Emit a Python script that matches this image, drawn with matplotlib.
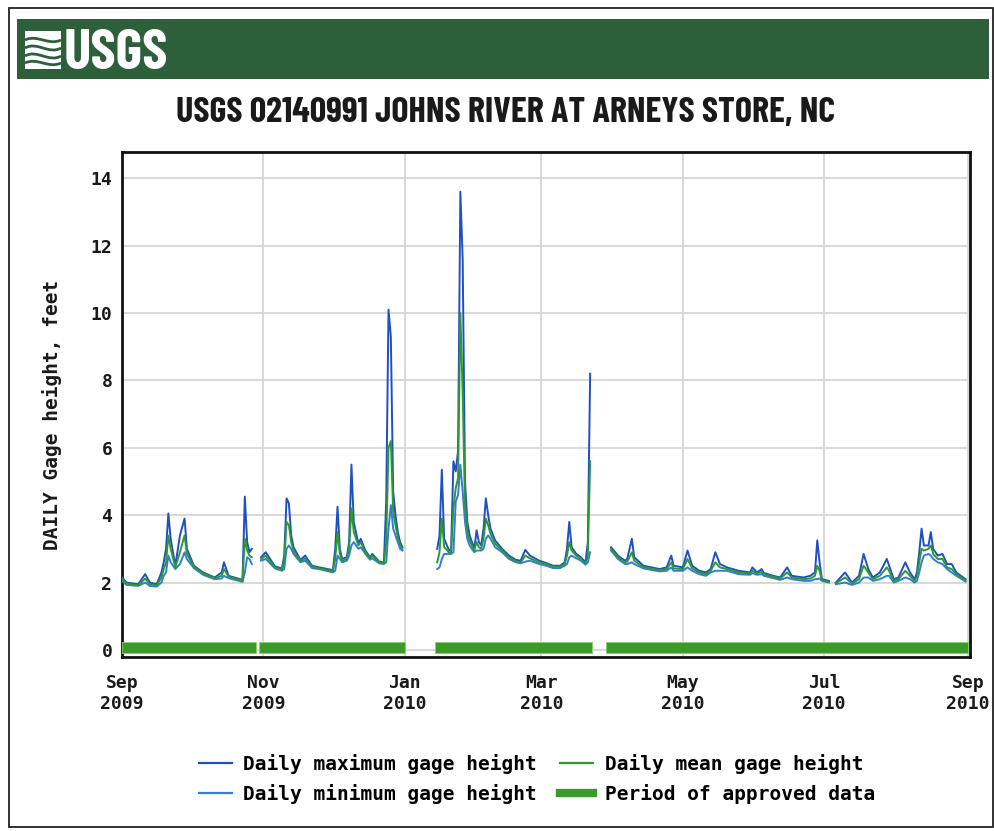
import numpy as np
import pandas as pd
import matplotlib
matplotlib.use('Agg')
import matplotlib.pyplot as plt
import matplotlib.dates as mdates
from matplotlib.patches import Rectangle, PathPatch
from matplotlib.path import Path
from matplotlib.lines import Line2D

nan = float('nan')

# ---------------- data ----------------
dates = [
    '2009-09-01', '2009-09-03', '2009-09-08', '2009-09-11', '2009-09-13', '2009-09-16',
    '2009-09-18', '2009-09-19', '2009-09-20', '2009-09-21', '2009-09-22', '2009-09-24',
    '2009-09-26', '2009-09-28', '2009-09-29', '2009-10-02', '2009-10-06', '2009-10-11',
    '2009-10-14', '2009-10-15', '2009-10-17', '2009-10-23', '2009-10-24', '2009-10-25',
    '2009-10-26', '2009-10-27', '2009-10-28',
    '2009-10-31', '2009-11-02', '2009-11-06', '2009-11-09', '2009-11-10', '2009-11-11',
    '2009-11-12', '2009-11-13', '2009-11-14', '2009-11-17', '2009-11-19', '2009-11-22',
    '2009-11-25', '2009-12-01', '2009-12-02', '2009-12-03', '2009-12-04', '2009-12-05',
    '2009-12-07', '2009-12-08', '2009-12-09', '2009-12-10', '2009-12-12', '2009-12-13',
    '2009-12-15', '2009-12-17', '2009-12-18', '2009-12-21', '2009-12-23', '2009-12-24',
    '2009-12-25', '2009-12-26', '2009-12-27', '2009-12-28', '2009-12-29', '2009-12-30',
    '2009-12-31', '2010-01-01',
    '2010-01-15', '2010-01-16', '2010-01-17', '2010-01-18', '2010-01-20', '2010-01-21',
    '2010-01-22', '2010-01-23', '2010-01-24', '2010-01-25', '2010-01-26', '2010-01-27',
    '2010-01-28', '2010-01-29', '2010-01-31', '2010-02-01', '2010-02-02', '2010-02-03',
    '2010-02-04', '2010-02-05', '2010-02-06', '2010-02-07', '2010-02-09', '2010-02-12',
    '2010-02-15', '2010-02-18', '2010-02-20', '2010-02-22', '2010-02-24', '2010-02-28',
    '2010-03-03', '2010-03-06', '2010-03-09', '2010-03-11', '2010-03-12', '2010-03-13',
    '2010-03-14', '2010-03-16', '2010-03-18', '2010-03-20', '2010-03-21', '2010-03-22',
    '2010-03-23',
    '2010-03-31', '2010-04-03', '2010-04-06', '2010-04-07', '2010-04-09', '2010-04-10',
    '2010-04-14', '2010-04-21', '2010-04-24', '2010-04-26', '2010-04-27', '2010-05-01',
    '2010-05-03', '2010-05-05', '2010-05-08', '2010-05-11', '2010-05-13', '2010-05-15',
    '2010-05-17', '2010-05-20', '2010-05-25', '2010-05-30', '2010-05-31', '2010-06-02',
    '2010-06-04', '2010-06-05', '2010-06-09', '2010-06-12', '2010-06-15', '2010-06-17',
    '2010-06-22', '2010-06-25', '2010-06-27', '2010-06-28', '2010-06-29', '2010-06-30',
    '2010-07-03', '2010-07-04',
    '2010-07-06', '2010-07-10', '2010-07-13', '2010-07-16', '2010-07-18', '2010-07-20',
    '2010-07-22', '2010-07-25', '2010-07-28', '2010-07-29', '2010-07-31', '2010-08-02',
    '2010-08-05', '2010-08-07', '2010-08-09', '2010-08-10', '2010-08-11', '2010-08-12',
    '2010-08-13', '2010-08-15', '2010-08-16', '2010-08-17', '2010-08-19', '2010-08-21',
    '2010-08-23', '2010-08-25', '2010-08-27', '2010-08-31',
]

gage_max = [
    2.15, 2.00, 1.95, 2.25, 2.00, 1.95,
    2.30, 2.60, 3.00, 4.05, 3.30, 2.50,
    3.40, 3.90, 3.00, 2.50, 2.30, 2.15,
    2.30, 2.60, 2.20, 2.08, 4.55, 3.20,
    2.90, 3.00, nan,
    2.75, 2.90, 2.48, 2.42, 2.80, 4.50,
    4.35, 3.40, 3.05, 2.67, 2.80, 2.50,
    2.45, 2.37, 3.00, 4.25, 3.00, 2.70,
    2.75, 3.20, 5.50, 3.80, 3.15, 3.30,
    2.95, 2.75, 2.85, 2.62, 2.60, 4.40,
    10.1, 9.30, 4.70, 4.00, 3.50, 3.20,
    3.05, nan,
    3.00, 3.40, 5.35, 3.30, 2.97, 2.95,
    5.60, 5.30, 5.90, 13.6, 11.6, 5.00,
    3.80, 3.40, 3.00, 3.55, 3.20, 3.10,
    3.60, 4.50, 4.00, 3.60, 3.25, 3.00,
    2.80, 2.67, 2.65, 2.97, 2.80, 2.65,
    2.58, 2.50, 2.50, 2.60, 3.00, 3.80,
    3.05, 2.85, 2.75, 2.60, 3.20, 8.20,
    nan,
    3.05, 2.80, 2.65, 2.70, 3.30, 2.75,
    2.50, 2.40, 2.45, 2.80, 2.50, 2.45,
    2.95, 2.50, 2.35, 2.30, 2.40, 2.90,
    2.55, 2.45, 2.35, 2.30, 2.45, 2.30,
    2.40, 2.28, 2.20, 2.15, 2.45, 2.20,
    2.15, 2.20, 2.30, 3.25, 2.60, 2.10,
    2.05, nan,
    2.00, 2.30, 2.00, 2.20, 2.85, 2.40,
    2.15, 2.30, 2.70, 2.50, 2.10, 2.15,
    2.60, 2.30, 2.10, 2.30, 2.90, 3.60,
    3.10, 3.10, 3.50, 3.00, 2.80, 2.85,
    2.55, 2.55, 2.30, 2.10,
]

gage_mean = [
    2.10, 1.97, 1.92, 2.12, 1.95, 1.92,
    2.15, 2.40, 2.60, 3.40, 3.00, 2.45,
    2.90, 3.40, 2.85, 2.47, 2.27, 2.13,
    2.20, 2.40, 2.17, 2.05, 3.30, 2.95,
    2.80, 2.75, nan,
    2.70, 2.80, 2.45, 2.38, 2.60, 3.80,
    3.70, 3.20, 2.95, 2.63, 2.72, 2.47,
    2.42, 2.34, 2.70, 3.50, 2.85, 2.65,
    2.70, 3.00, 4.20, 3.50, 3.10, 3.20,
    2.90, 2.72, 2.80, 2.60, 2.57, 3.20,
    6.00, 6.20, 4.10, 3.70, 3.35, 3.10,
    3.00, nan,
    2.60, 2.90, 3.90, 3.05, 2.90, 2.90,
    4.20, 4.80, 5.10, 10.0, 7.60, 4.30,
    3.50, 3.25, 2.95, 3.20, 3.05, 3.00,
    3.30, 3.90, 3.70, 3.45, 3.15, 2.95,
    2.75, 2.63, 2.60, 2.80, 2.72, 2.60,
    2.55, 2.47, 2.47, 2.55, 2.80, 3.20,
    2.95, 2.80, 2.70, 2.57, 2.80, 5.60,
    nan,
    3.00, 2.75, 2.60, 2.62, 2.90, 2.65,
    2.45, 2.37, 2.40, 2.60, 2.42, 2.40,
    2.70, 2.42, 2.30, 2.25, 2.35, 2.60,
    2.45, 2.40, 2.30, 2.27, 2.35, 2.27,
    2.32, 2.24, 2.17, 2.12, 2.30, 2.15,
    2.10, 2.12, 2.20, 2.50, 2.35, 2.07,
    2.02, nan,
    1.98, 2.15, 1.97, 2.10, 2.50, 2.30,
    2.10, 2.20, 2.45, 2.35, 2.05, 2.10,
    2.35, 2.20, 2.05, 2.20, 2.60, 3.00,
    2.95, 3.00, 3.10, 2.85, 2.70, 2.70,
    2.45, 2.40, 2.25, 2.07,
]

gage_min = [
    2.05, 1.93, 1.90, 2.00, 1.90, 1.88,
    2.00, 2.20, 2.30, 2.80, 2.60, 2.40,
    2.55, 2.90, 2.70, 2.43, 2.23, 2.10,
    2.12, 2.20, 2.13, 2.02, 2.30, 2.75,
    2.70, 2.55, nan,
    2.65, 2.70, 2.42, 2.35, 2.40, 3.00,
    3.10, 3.00, 2.85, 2.60, 2.65, 2.43,
    2.40, 2.30, 2.35, 2.80, 2.70, 2.60,
    2.65, 2.80, 3.10, 3.20, 3.00, 3.05,
    2.85, 2.68, 2.72, 2.57, 2.55, 2.60,
    3.60, 4.30, 3.60, 3.40, 3.20, 3.00,
    2.95, nan,
    2.40, 2.45, 2.70, 2.85, 2.85, 2.85,
    2.90, 4.40, 4.60, 5.50, 4.70, 3.80,
    3.30, 3.10, 2.90, 2.95, 2.95, 2.95,
    3.00, 3.30, 3.40, 3.30, 3.05, 2.90,
    2.70, 2.60, 2.57, 2.62, 2.65, 2.55,
    2.50, 2.43, 2.43, 2.50, 2.55, 2.75,
    2.80, 2.72, 2.65, 2.53, 2.60, 2.90,
    nan,
    2.95, 2.70, 2.55, 2.55, 2.60, 2.55,
    2.42, 2.33, 2.35, 2.45, 2.35, 2.35,
    2.45, 2.35, 2.25, 2.20, 2.30, 2.35,
    2.35, 2.35, 2.25, 2.23, 2.28, 2.23,
    2.25, 2.20, 2.13, 2.08, 2.15, 2.10,
    2.05, 2.05, 2.10, 2.10, 2.12, 2.05,
    2.00, nan,
    1.95, 2.00, 1.93, 2.00, 2.15, 2.15,
    2.05, 2.10, 2.20, 2.20, 2.00, 2.05,
    2.15, 2.10, 2.00, 2.05, 2.30, 2.60,
    2.80, 2.85, 2.80, 2.70, 2.60, 2.55,
    2.40, 2.30, 2.20, 2.03,
]

approved_start = ['2009-09-01', '2009-10-30', '2010-01-14', '2010-03-29']
approved_end = ['2009-10-29', '2010-01-01', '2010-03-23', '2010-09-01']

tick_dates = ['2009-09-01', '2009-11-01', '2010-01-01', '2010-03-01',
              '2010-05-01', '2010-07-01', '2010-09-01']
tick_labels = ['Sep\n2009', 'Nov\n2009', 'Jan\n2010', 'Mar\n2010',
               'May\n2010', 'Jul\n2010', 'Sep\n2010']
y_ticks = [0, 2, 4, 6, 8, 10, 12, 14]

title_text = 'USGS 02140991 JOHNS RIVER AT ARNEYS STORE, NC'
y_label = 'DAILY Gage height, feet'
legend_labels = ['Daily maximum gage height', 'Daily minimum gage height',
                 'Daily mean gage height', 'Period of approved data']

# ---------------- colours ----------------
c_max = '#1f4fc4'
c_min = '#2f7de1'
c_mean = '#2e9a2e'
c_bar = '#3a9b2a'
c_header = '#2e5f3b'

W, H = 995, 831
fig = plt.figure(figsize=(W / 100, H / 100), dpi=100)


def fx(x):
    return x / W


def fy(y):
    return 1 - y / H


# outer frame
fig.patches.append(Rectangle((fx(9), fy(827)), fx(993) - fx(9), fy(8) - fy(827),
                             fill=False, ec='#222222', lw=1.3,
                             transform=fig.transFigure, figure=fig))
# header band
fig.patches.append(Rectangle((fx(17), fy(79)), fx(989) - fx(17), fy(19) - fy(79),
                             fc=c_header, ec='none',
                             transform=fig.transFigure, figure=fig))


# logo emblem (white wave symbol)
def wave(y0, amp):
    verts = [(fx(25), fy(y0)), (fx(37), fy(y0 - amp)), (fx(49), fy(y0 + amp)), (fx(61), fy(y0))]
    codes = [Path.MOVETO, Path.CURVE4, Path.CURVE4, Path.CURVE4]
    return Path(verts, codes)


fig.patches.append(Rectangle((fx(25), fy(69)), fx(61) - fx(25), fy(31) - fy(69),
                             fc='white', ec='none', transform=fig.transFigure, figure=fig))
for y0, amp in [(40, 6), (48, 7), (56, 7), (63, 6)]:
    fig.patches.append(PathPatch(wave(y0, amp), fc='none', ec=c_header, lw=2.0,
                                 transform=fig.transFigure, figure=fig))

narrow = ['Barlow Condensed', 'Roboto Condensed', 'DejaVu Sans']
fig.text(fx(64), fy(69), 'USGS', color='white', fontsize=41, fontweight='bold',
         family=narrow, ha='left', va='baseline')

fig.text(fx(506), fy(122), title_text, color='#1a1a1a', fontsize=26, fontweight='bold',
         family=narrow, ha='center', va='baseline')

# ---------------- axes ----------------
ax = fig.add_axes([fx(122), fy(657), fx(970) - fx(122), fy(152) - fy(657)])

d = pd.to_datetime(dates)
ax.plot(d, gage_max, color=c_max, lw=1.4, zorder=3)
ax.plot(d, gage_min, color=c_min, lw=1.4, zorder=3)
ax.plot(d, gage_mean, color=c_mean, lw=1.4, zorder=4)

s = mdates.date2num(pd.to_datetime(approved_start))
e = mdates.date2num(pd.to_datetime(approved_end))
ax.broken_barh(list(zip(s, e - s)), (-0.09, 0.33), facecolors=c_bar,
               edgecolors='#8fce70', linewidth=0.6, zorder=5)

x0 = mdates.date2num(pd.Timestamp('2009-09-01'))
x1 = mdates.date2num(pd.Timestamp('2010-09-01')) + 0.9
ax.set_xlim(x0, x1)
ax.set_ylim(-0.21, 14.78)

ax.set_xticks(pd.to_datetime(tick_dates))
ax.set_xticklabels(tick_labels, linespacing=1.25)
ax.set_yticks(y_ticks)
ax.set_yticklabels([str(v) for v in y_ticks])

mono = ['DejaVu Sans Mono']
for lab in ax.get_xticklabels() + ax.get_yticklabels():
    lab.set_family(mono)
    lab.set_fontweight('bold')
    lab.set_fontsize(13)
    lab.set_color('#1a1a1a')
ax.tick_params(axis='both', length=0)
ax.tick_params(axis='x', pad=12)
ax.tick_params(axis='y', pad=7)

ax.grid(True, color='#d6d6d6', lw=1.3, zorder=0)
ax.set_axisbelow(True)
for sp in ax.spines.values():
    sp.set_linewidth(2.0)
    sp.set_color('#111111')

fig.text(fx(52), fy(415), y_label, rotation=90, family=mono, fontweight='bold',
         fontsize=14, color='#1a1a1a', ha='center', va='center')

# ---------------- legend ----------------
handles = [Line2D([], [], color=c_max, lw=1.6),
           Line2D([], [], color=c_min, lw=1.6),
           Line2D([], [], color=c_mean, lw=1.6),
           Line2D([], [], color=c_bar, lw=6)]
fig.legend(handles, legend_labels, loc='center', bbox_to_anchor=(fx(537), fy(779)),
           ncol=2, frameon=False, handlelength=1.7, handletextpad=0.6,
           columnspacing=1.2, labelspacing=0.5,
           prop={'family': 'DejaVu Sans Mono', 'weight': 'bold', 'size': 14})

fig.savefig('out.png', dpi=100, facecolor='white')
